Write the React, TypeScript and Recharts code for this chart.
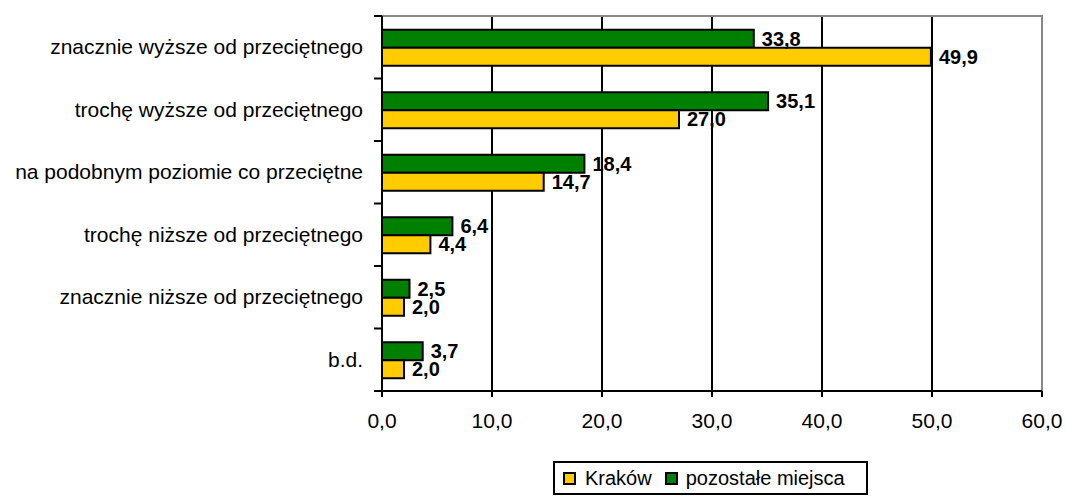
import React from "react";
import { BarChart, Bar, XAxis, YAxis, CartesianGrid, LabelList, ReferenceArea } from "recharts";

const categories = [
  "znacznie wyższe od przeciętnego",
  "trochę wyższe od przeciętnego",
  "na podobnym poziomie co przeciętne",
  "trochę niższe od przeciętnego",
  "znacznie niższe od przeciętnego",
  "b.d.",
];
const krakow = [49.9, 27.0, 14.7, 4.4, 2.0, 2.0];
const pozostale = [33.8, 35.1, 18.4, 6.4, 2.5, 3.7];
const xTicks = [0, 10, 20, 30, 40, 50, 60];

const data = categories.map((c, i) => ({ name: c, krakow: krakow[i], pozostale: pozostale[i] }));

const fmt = (v: any) => Number(v).toFixed(1).replace(".", ",");
const FONT = "Arial, 'Liberation Sans', sans-serif";

const YTick = (props: any) => {
  const { x, y, payload, index } = props;
  const half = 375 / 6 / 2;
  return (
    <g>
      <line x1={x + 11} x2={x + 19} y1={y - half} y2={y - half} stroke="#000" strokeWidth={2} />
      {index === categories.length - 1 && (
        <line x1={x + 11} x2={x + 19} y1={y + half} y2={y + half} stroke="#000" strokeWidth={2} />
      )}
      <text x={x} y={y + 7} textAnchor="end" fontSize={21} fontFamily={FONT} fill="#000">
        {payload.value}
      </text>
    </g>
  );
};

export default function App() {
  return (
    <div style={{ position: "relative", width: 1066, height: 496 }}>
      <style>{`body{margin:0}`}</style>
      <BarChart
        width={1066}
        height={496}
        data={data}
        layout="vertical"
        margin={{ top: 16, right: 24, bottom: 0, left: 0 }}
        barCategoryGap="22%"
        barGap={0}
      >
        <ReferenceArea x1={0} x2={60} stroke="#888" strokeWidth={2} fill="none" fillOpacity={0} ifOverflow="visible" />
        <CartesianGrid horizontal={false} stroke="#000" strokeWidth={2} verticalValues={[10, 20, 30, 40, 50]} />
        <XAxis
          type="number"
          domain={[0, 60]}
          ticks={xTicks}
          tickFormatter={fmt}
          stroke="#000"
          strokeWidth={2}
          tickSize={6}
          tickMargin={16}
          height={105}
          tick={{ fontSize: 21, fontFamily: FONT, fill: "#000" }}
          interval={0}
        />
        <YAxis
          type="category"
          dataKey="name"
          width={382}
          stroke="#000"
          strokeWidth={2}
          tickLine={false}
          tickSize={0}
          tickMargin={19}
          tick={<YTick />}
          interval={0}
        />
        <Bar dataKey="pozostale" fill="#008000" stroke="#000" strokeWidth={2} isAnimationActive={false}>
          <LabelList dataKey="pozostale" position="right" offset={8} formatter={fmt} fontSize={20} fontWeight="bold" fontFamily={FONT} fill="#000" />
        </Bar>
        <Bar dataKey="krakow" fill="#FFCC00" stroke="#000" strokeWidth={2} isAnimationActive={false}>
          <LabelList dataKey="krakow" position="right" offset={8} formatter={fmt} fontSize={20} fontWeight="bold" fontFamily={FONT} fill="#000" />
        </Bar>
      </BarChart>
      <div
        style={{
          position: "absolute",
          left: 553,
          top: 461,
          width: 311,
          height: 30,
          border: "2px solid #000",
          display: "flex",
          alignItems: "center",
          fontFamily: FONT,
          fontSize: 20,
          color: "#000",
          boxSizing: "content-box",
          whiteSpace: "nowrap",
        }}
      >
        <span style={{ display: "inline-block", width: 9, height: 9, background: "#FFCC00", border: "2px solid #000", marginLeft: 8, marginRight: 9 }} />
        <span>Kraków</span>
        <span style={{ display: "inline-block", width: 9, height: 9, background: "#008000", border: "2px solid #000", marginLeft: 13, marginRight: 8 }} />
        <span>pozostałe miejsca</span>
      </div>
    </div>
  );
}
